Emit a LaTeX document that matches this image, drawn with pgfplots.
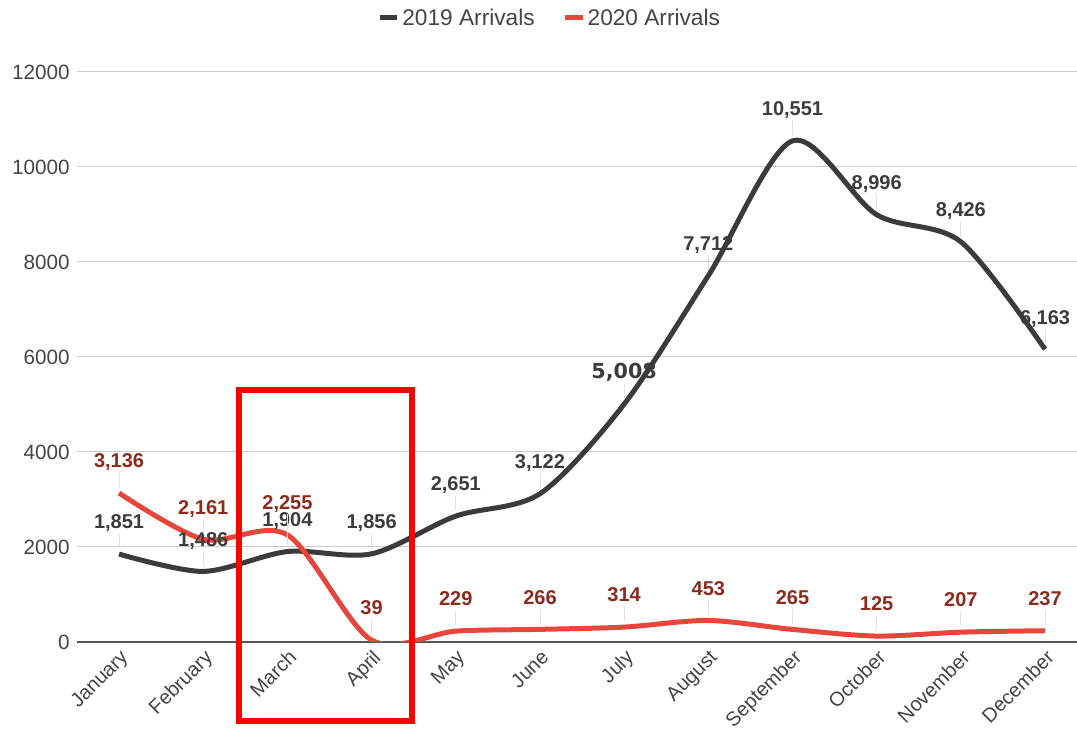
\documentclass[border=0pt]{standalone}
\usepackage{pgfplots}
\pgfplotsset{compat=1.18}
\usepackage{fontspec}
\setmainfont{Liberation Sans}
\newfontfamily\dejavu{DejaVu Sans}

\definecolor{c19}{HTML}{3B3B3B}
\definecolor{c20}{HTML}{E6463B}
\definecolor{l19}{HTML}{3C3C3C}
\definecolor{l20}{HTML}{8C2A1C}
\definecolor{txt}{HTML}{444444}
\definecolor{grd}{HTML}{CCCCCC}
\definecolor{base}{HTML}{555555}
\definecolor{lead}{HTML}{E0E0E0}

% label with a thin leader line under it
\newcommand\lab[1]{\vbox{\offinterlineskip\halign{\hfil##\hfil\cr #1\vrule depth 2.5pt width 0pt\cr\noalign{\kern1pt}\textcolor{lead}{\rule{0.6pt}{11pt}}\cr}}}

\begin{document}
\begin{tikzpicture}
\begin{axis}[
  at={(0,0)}, anchor=south west,
  scale only axis, width=750pt, height=427.5pt,
  xmin=-0.5, xmax=11.38, ymin=0, ymax=12000,
  ytick={0,2000,...,12000}, scaled y ticks=false,
  xtick={0,...,11},
  xticklabels={January,February,March,April,May,June,July,August,September,October,November,December},
  axis line style={draw=none}, major tick length=0pt,
  ymajorgrids, grid style={draw=grd, line width=0.75pt},
  extra y ticks={0}, extra y tick labels={},
  extra y tick style={grid style={draw=base, line width=1.1pt}},
  /pgf/number format/assume math mode=true,
  yticklabel style={font=\fontsize{15.5}{18}\selectfont, text=txt,
    /pgf/number format/1000 sep={}, xshift=-2pt},
  xticklabel style={font=\fontsize{15}{18}\selectfont, text=txt,
    rotate=45, anchor=north east},
  legend style={at={(0.473,1)}, anchor=center, yshift=40.5pt,
    draw=none, fill=none, font=\fontsize{17}{20}\selectfont, text=txt,
    legend columns=2, /tikz/every even column/.append style={column sep=19pt}},
  legend image code/.code={\draw[line width=3.75pt] (0pt,0pt) -- (13pt,0pt);},
  point meta=explicit symbolic,
  nodes near coords={\lab{\pgfplotspointmeta}},
  every node near coord/.append style={anchor=south, inner sep=0pt, yshift=2.5pt,
    font=\fontsize{15}{17}\selectfont\bfseries},
]
\addplot[c19, line width=3.75pt, smooth, tension=0.5,
  every node near coord/.append style={text=l19}] coordinates {
  (0,1851) [1,851]
  (1,1486) [1,486]
  (2,1904) [1,904]
  (3,1856) [1,856]
  (4,2651) [2,651]
  (5,3122) [3,122]
  (6,5008) [{\fontsize{15.5}{18}\dejavu\bfseries 5,008}]
  (7,7712) [7,712]
  (8,10551) [10,551]
  (9,8996) [8,996]
  (10,8426) [8,426]
  (11,6163) [6,163]
};
\addlegendentry{2019 Arrivals}
\addplot[c20, line width=3.75pt, smooth, tension=0.5,
  every node near coord/.append style={text=l20}] coordinates {
  (0,3136) [3,136]
  (1,2161) [2,161]
  (2,2255) [2,255]
  (3,39) [39]
  (4,229) [229]
  (5,266) [266]
  (6,314) [314]
  (7,453) [453]
  (8,265) [265]
  (9,125) [125]
  (10,207) [207]
  (11,237) [237]
};
\addlegendentry{2020 Arrivals}
\end{axis}
\draw[red, line width=4.5pt] (121.5pt,-59.25pt) rectangle (251.25pt,189pt);
\pgfresetboundingbox
\path (-57.75pt,-69pt) rectangle (750pt,481.5pt);
\end{tikzpicture}
\end{document}
